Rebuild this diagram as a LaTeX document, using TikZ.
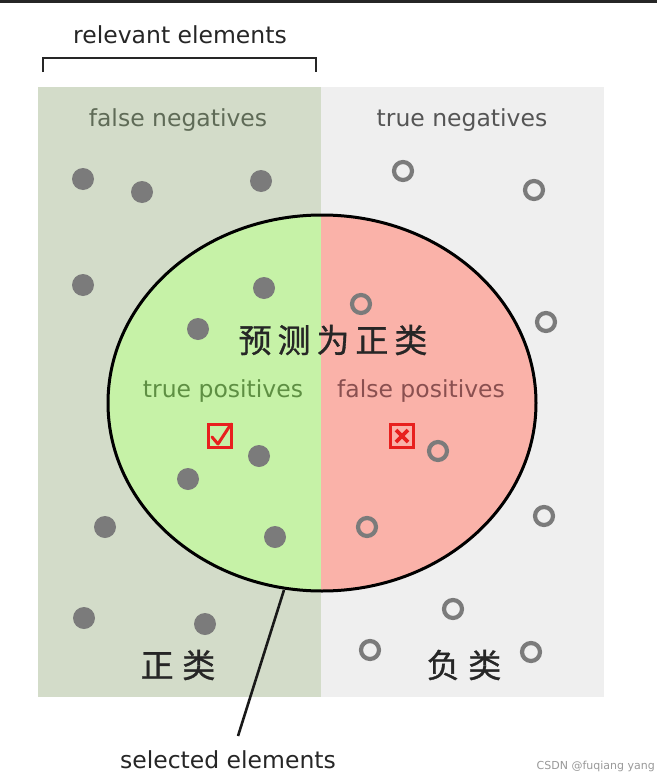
\documentclass[tikz,border=0pt]{standalone}
\usepackage{fontspec}
\setmainfont{DejaVu Sans}
\newfontfamily\cjk[LetterSpace=18,FakeBold=1]{Noto Sans CJK SC}
\newfontfamily\cjkb[LetterSpace=26,FakeBold=1]{Noto Sans CJK SC}
\definecolor{relbg}{HTML}{D3DCC9}
\definecolor{negbg}{HTML}{EFEFEF}
\definecolor{tpfill}{HTML}{C6F2A7}
\definecolor{fpfill}{HTML}{FAB2A9}
\definecolor{dotgray}{HTML}{7B7B7B}
\definecolor{fncol}{HTML}{5F6B57}
\definecolor{tncol}{HTML}{555555}
\definecolor{tpcol}{HTML}{5E8F43}
\definecolor{fpcol}{HTML}{8A5050}
\definecolor{boxred}{HTML}{E8201E}
\tikzset{
  x=1pt, y=-1pt,
  dotf/.style={circle, fill=dotgray, minimum size=22pt, inner sep=0pt},
  doth/.style={circle, draw=dotgray, line width=4.2pt, minimum size=18pt, inner sep=0pt},
  lbl/.style={font=\fontsize{23.5}{26}\selectfont, inner sep=0pt},
  cjklbl/.style={font=\fontsize{33}{36}\selectfont\cjk, inner sep=0pt, text=black!85},
  cjklblb/.style={font=\fontsize{33}{36}\selectfont\cjkb, inner sep=0pt, text=black!85},
  redbox/.style={draw=boxred, line width=2.6pt, minimum size=23pt, inner sep=0pt},
}
\begin{document}
\begin{tikzpicture}
\useasboundingbox (0,0) rectangle (657,779);
\fill[white] (0,0) rectangle (657,779);
\fill[black!85] (0,0) rectangle (657,3);
% backgrounds
\fill[relbg] (38,87) rectangle (321,697);
\fill[negbg] (321,87) rectangle (604,697);
% bracket
\draw[line width=2.4pt, black!85] (43,72) -- (43,58) -- (316,58) -- (316,72);
\node[lbl, text=black!85] (rel) at (180,35) {relevant elements};
\node[lbl, text=fncol] (fn) at (178,120) {false negatives};
\node[lbl, text=tncol] (tn) at (462,120) {true negatives};
% ellipse
\begin{scope}
\clip (38,200) rectangle (321,600);
\fill[tpfill] (322,403) ellipse [x radius=214, y radius=188];
\end{scope}
\begin{scope}
\clip (321,200) rectangle (604,600);
\fill[fpfill] (322,403) ellipse [x radius=214, y radius=188];
\end{scope}
\draw[line width=3pt, black] (322,403) ellipse [x radius=214, y radius=188];
\coordinate (sel) at (284,590);
\coordinate (selend) at (238,736);
% filled dots
\foreach \n/\px/\py in {1/83/179, 2/142/192, 3/261/181, 4/83/285, 5/264/288, 6/198/329, 7/259/456, 8/188/479, 9/105/527, 10/275/537, 11/84/618, 12/205/624}
  \node[dotf] (d\n) at (\px,\py) {};
% hollow dots
\foreach \n/\px/\py in {1/403/171, 2/534/190, 3/361/304, 4/546/322, 5/438/451, 6/544/516, 7/367/527, 8/453/609, 9/370/650, 10/531/652}
  \node[doth] (h\n) at (\px,\py) {};
% labels
\node[cjklbl] (pred) at (333,340) {预测为正类};
\node[lbl, text=tpcol] (tp) at (223,391) {true positives};
\node[lbl, text=fpcol] (fp) at (421,391) {false positives};
\node[redbox] (chk) at (220,436) {};
\draw[boxred, line width=3pt, line cap=round, line join=round] ([shift={(-8,1)}]chk.center) -- ([shift={(-2,8)}]chk.center) -- ([shift={(11,-12)}]chk.center);
\node[redbox] (xb) at (402,436) {};
\draw[boxred, line width=3.6pt] ([shift={(-6,-6)}]xb.center) -- ([shift={(6,6)}]xb.center)
  ([shift={(-6,6)}]xb.center) -- ([shift={(6,-6)}]xb.center);
\node[cjklblb] (pos) at (178,665) {正类};
\node[cjklblb] (neg) at (464,665) {负类};
\node[lbl, text=black!85] (selt) at (228,760) {selected elements};
\draw[line width=2.6pt, black!90] (sel) -- (selend);
\node[font=\fontsize{11}{12}\selectfont, text=black!40, anchor=east, inner sep=0pt] (wm) at (655,766) {CSDN @fuqiang yang};
\end{tikzpicture}
\end{document}
